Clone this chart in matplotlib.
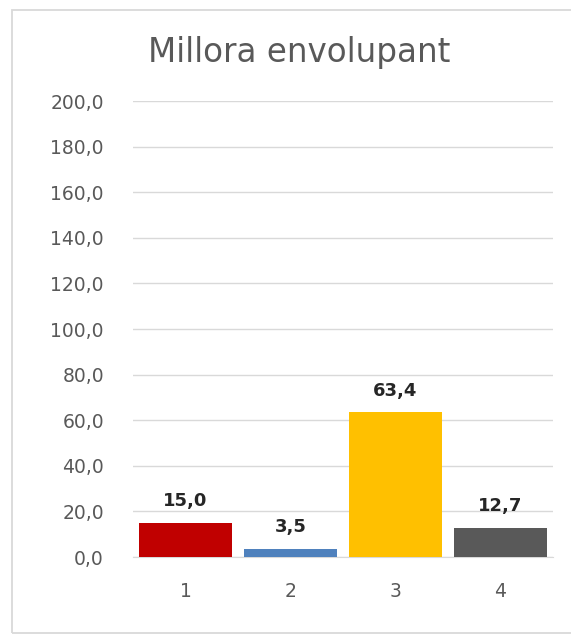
import matplotlib
matplotlib.use('Agg')
import matplotlib.pyplot as plt
from matplotlib.patches import Rectangle

# Data
categories = ['1', '2', '3', '4']
values = [15.0, 3.5, 63.4, 12.7]
bar_colors = ['#C00000', '#4F81BD', '#FFC000', '#595959']
y_ticks = [0, 20, 40, 60, 80, 100, 120, 140, 160, 180, 200]
title = 'Millora envolupant'

plt.rcParams['font.family'] = ['DejaVu Sans']

fig = plt.figure(figsize=(5.71, 6.35), dpi=100)
ax = fig.add_axes([0.233, 0.1228, 0.735, 0.718])

x = list(range(1, len(categories) + 1))
ax.bar(x, values, width=0.89, color=bar_colors, zorder=3)
for xi, v in zip(x, values):
    ax.annotate(f'{v:.1f}'.replace('.', ','), (xi, v), xytext=(0, 12), textcoords='offset points',
                ha='center', va='baseline', fontsize=13, fontweight='bold', color='#262626')

ax.set_xlim(0.5, 4.5)
ax.set_ylim(0, 200)
ax.set_yticks(y_ticks)
ax.set_yticklabels([f'{t:.1f}'.replace('.', ',') for t in y_ticks])
ax.set_xticks(x)
ax.set_xticklabels(categories)
ax.tick_params(axis='both', length=0, labelsize=13.5, labelcolor='#595959')
ax.tick_params(axis='x', pad=18)
ax.tick_params(axis='y', pad=21)
ax.grid(axis='y', color='#D9D9D9', lw=1, zorder=0)
for s in ['top', 'right', 'left']:
    ax.spines[s].set_visible(False)
ax.spines['bottom'].set_color('#D9D9D9')

fig.text(0.524, 1 - 62 / 635, title, ha='center', va='baseline', fontsize=23.5, color='#595959')

# chart frame
fig.patches.append(Rectangle((12 / 571, 2 / 635), 1.2, 1 - 12 / 635, transform=fig.transFigure,
                             fill=False, edgecolor='#D9D9D9', lw=1.3))

fig.savefig('out.png', dpi=100)
